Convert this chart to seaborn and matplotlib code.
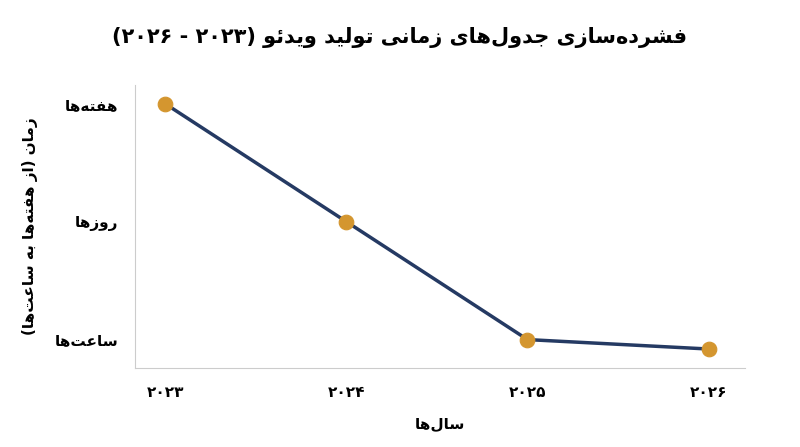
import matplotlib
matplotlib.use("Agg")
import matplotlib.pyplot as plt
import seaborn as sns
import pandas as pd

# ---- data ----
years = [2023, 2024, 2025, 2026]
year_labels = ["۲۰۲۳", "۲۰۲۴", "۲۰۲۵", "۲۰۲۶"]
levels = [2.0, 1.0, 0.0, -0.08]          # 0 = hours, 1 = days, 2 = weeks
level_ticks = [0, 1, 2]
level_labels = ["ساعت‌ها", "روزها", "هفته‌ها"]
title = "فشرده‌سازی جدول‌های زمانی تولید ویدئو (۲۰۲۳ - ۲۰۲۶)"
xlabel = "سال‌ها"
ylabel = "زمان (از هفته‌ها به ساعت‌ها)"

# ---- minimal Arabic/Persian shaping (matplotlib has no shaping engine) ----
# letter: (isolated, final, initial, medial) ; None initial => does not join left
FORMS = {
    "ا": (0xFE8D, 0xFE8E, None, None), "ب": (0xFE8F, 0xFE90, 0xFE91, 0xFE92),
    "ت": (0xFE95, 0xFE96, 0xFE97, 0xFE98), "ج": (0xFE9D, 0xFE9E, 0xFE9F, 0xFEA0),
    "د": (0xFEA9, 0xFEAA, None, None), "ر": (0xFEAD, 0xFEAE, None, None),
    "ز": (0xFEAF, 0xFEB0, None, None), "س": (0xFEB1, 0xFEB2, 0xFEB3, 0xFEB4),
    "ش": (0xFEB5, 0xFEB6, 0xFEB7, 0xFEB8), "ع": (0xFEC9, 0xFECA, 0xFECB, 0xFECC),
    "ف": (0xFED1, 0xFED2, 0xFED3, 0xFED4), "ل": (0xFEDD, 0xFEDE, 0xFEDF, 0xFEE0),
    "م": (0xFEE1, 0xFEE2, 0xFEE3, 0xFEE4), "ن": (0xFEE5, 0xFEE6, 0xFEE7, 0xFEE8),
    "ه": (0xFEE9, 0xFEEA, 0xFEEB, 0xFEEC), "و": (0xFEED, 0xFEEE, None, None),
    "ی": (0xFBFC, 0xFBFD, 0xFBFE, 0xFBFF), "ئ": (0xFE89, 0xFE8A, 0xFE8B, 0xFE8C),
}
MIRROR = {"(": ")", ")": "("}


def fa(text):
    chars = list(text)
    out = []
    for i, ch in enumerate(chars):
        if ch == "\u200c":
            continue
        if ch not in FORMS:
            out.append(ch)
            continue
        prev = chars[i - 1] if i > 0 else ""
        nxt = chars[i + 1] if i + 1 < len(chars) else ""
        joins_prev = prev in FORMS and FORMS[prev][2] is not None
        joins_next = nxt in FORMS and FORMS[ch][2] is not None
        iso, fin, ini, med = FORMS[ch]
        if joins_prev and joins_next:
            code = med
        elif joins_prev:
            code = fin
        elif joins_next:
            code = ini
        else:
            code = iso
        out.append(chr(code))
    # reverse for RTL, keep digit runs left-to-right
    rev = out[::-1]
    res, run = [], []
    for ch in rev:
        if "\u06f0" <= ch <= "\u06f9":
            run.append(ch)
        else:
            res.extend(run[::-1]); run = []
            res.append(MIRROR.get(ch, ch))
    res.extend(run[::-1])
    return "".join(res)


df = pd.DataFrame({"year": years, "level": levels})

sns.set_style("white")
plt.rcParams["font.family"] = ["DejaVu Sans"]
plt.rcParams["text.color"] = "black"
plt.rcParams["axes.labelcolor"] = "black"
plt.rcParams["xtick.color"] = "black"
plt.rcParams["ytick.color"] = "black"

fig, ax = plt.subplots(figsize=(8, 4.47), dpi=100)
fig.subplots_adjust(left=0.169, right=0.931, top=0.81, bottom=0.177)

sns.lineplot(data=df, x="year", y="level", ax=ax, color="#253a63", linewidth=2.5)
sns.scatterplot(data=df, x="year", y="level", ax=ax, color="#d4962f", s=110,
                edgecolor="#d4962f", zorder=3)

ax.set_xlim(2023 - 0.166, 2026 + 0.2)
ax.set_ylim(-0.24, 2.16)
ax.set_xticks(years)
ax.set_xticklabels(year_labels, fontsize=11, fontweight="bold")
ax.set_yticks(level_ticks)
ax.set_yticklabels([fa(t) for t in level_labels], fontsize=11, fontweight="bold")
ax.tick_params(axis="both", length=4, color="#cccccc", labelcolor="black", pad=8)

for s in ["top", "right"]:
    ax.spines[s].set_visible(False)
for s in ["left", "bottom"]:
    ax.spines[s].set_color("#cccccc")

ax.set_xlabel(fa(xlabel), fontsize=11, fontweight="bold", labelpad=12)
ax.set_ylabel(fa(ylabel), fontsize=11, fontweight="bold", labelpad=12)
fig.suptitle(fa(title), fontsize=15, fontweight="bold", y=0.94)

fig.savefig("out.png", dpi=100)
